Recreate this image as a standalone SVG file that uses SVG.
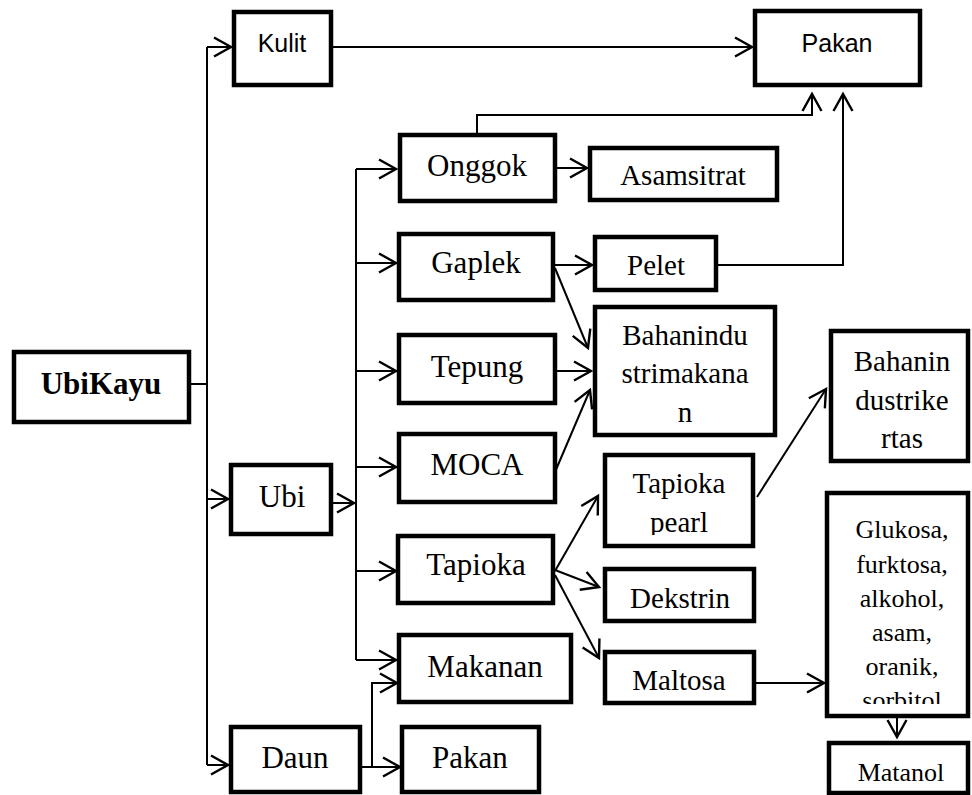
<svg xmlns="http://www.w3.org/2000/svg" width="972" height="795" viewBox="0 0 972 795">
<style>
.box{fill:#fff;stroke:#000;stroke-width:4.5}
.t{font-family:"Liberation Serif","Times New Roman",serif;font-size:31px;fill:#000;text-anchor:middle}
.s{font-family:"Liberation Sans",Arial,sans-serif;font-size:25px;fill:#000;text-anchor:middle}
.m{font-size:29px}
.sm{font-size:26px}
.c{fill:none;stroke:#000;stroke-width:2}
</style>
<defs>
<marker id="ah" viewBox="-20 -12 24 24" refX="0" refY="0" markerWidth="24" markerHeight="24" markerUnits="userSpaceOnUse" orient="auto" overflow="visible">
<path d="M-17,-9.5 L0,0 L-17,9.5" fill="none" stroke="#000" stroke-width="2.4"/>
</marker>
<clipPath id="cp1"><rect x="605" y="455" width="148" height="80"/></clipPath>
<clipPath id="cp2"><rect x="827" y="493" width="141" height="211"/></clipPath>
</defs>
<g id="connectors">
<path class="c" d="M191,384 H207"/>
<path class="c" d="M207,47 V765"/>
<path class="c" d="M207,47 H231" marker-end="url(#ah)"/>
<path class="c" d="M207,499 H228" marker-end="url(#ah)"/>
<path class="c" d="M207,765 H228" marker-end="url(#ah)"/>
<path class="c" d="M333,47 H752" marker-end="url(#ah)"/>
<path class="c" d="M333,503 H354" marker-end="url(#ah)"/>
<path class="c" d="M356,169 V660"/>
<path class="c" d="M356,169 H396" marker-end="url(#ah)"/>
<path class="c" d="M356,263 H396" marker-end="url(#ah)"/>
<path class="c" d="M356,371 H396" marker-end="url(#ah)"/>
<path class="c" d="M356,467 H396" marker-end="url(#ah)"/>
<path class="c" d="M356,571 H396" marker-end="url(#ah)"/>
<path class="c" d="M356,660 H396" marker-end="url(#ah)"/>
<path class="c" d="M477,133 V115 H812 V94" marker-end="url(#ah)"/>
<path class="c" d="M718,265 H843 V94" marker-end="url(#ah)"/>
<path class="c" d="M557,168 H587" marker-end="url(#ah)"/>
<path class="c" d="M555,265 H592" marker-end="url(#ah)"/>
<path class="c" d="M555,268 L588,348" marker-end="url(#ah)"/>
<path class="c" d="M557,371 H591" marker-end="url(#ah)"/>
<path class="c" d="M555,472 L590,390" marker-end="url(#ah)"/>
<path class="c" d="M555,571 L598,496" marker-end="url(#ah)"/>
<path class="c" d="M555,570 L599,587" marker-end="url(#ah)"/>
<path class="c" d="M555,575 L599,658" marker-end="url(#ah)"/>
<path class="c" d="M757,497 L826,389" marker-end="url(#ah)"/>
<path class="c" d="M756,683 H824" marker-end="url(#ah)"/>
<path class="c" d="M897,718 V737" marker-end="url(#ah)"/>
<path class="c" d="M362,767 H400" marker-end="url(#ah)"/>
<path class="c" d="M372,767 V683 H397" marker-end="url(#ah)"/>
</g>
<g id="ubikayu"><rect class="box" x="14" y="352" width="175" height="70"/><text class="t" x="101" y="394" font-weight="bold">UbiKayu</text></g>
<g id="kulit"><rect class="box" x="234" y="12" width="97" height="73"/><text class="s" x="282" y="52">Kulit</text></g>
<g id="pakan-top"><rect class="box" x="755" y="11" width="165" height="74"/><text class="s" x="837" y="52">Pakan</text></g>
<g id="ubi"><rect class="box" x="231" y="465" width="100" height="69"/><text class="t" x="282" y="507">Ubi</text></g>
<g id="daun"><rect class="box" x="231" y="727" width="129" height="65"/><text class="t" x="295" y="768">Daun</text></g>
<g id="onggok"><rect class="box" x="400" y="135" width="155" height="66"/><text class="t" x="477" y="176">Onggok</text></g>
<g id="gaplek"><rect class="box" x="399" y="234" width="154" height="66"/><text class="t" x="476" y="273">Gaplek</text></g>
<g id="tepung"><rect class="box" x="399" y="335" width="156" height="68"/><text class="t" x="477" y="377">Tepung</text></g>
<g id="moca"><rect class="box" x="399" y="434" width="156" height="68"/><text class="t" x="477" y="475">MOCA</text></g>
<g id="tapioka"><rect class="box" x="398" y="536" width="155" height="67"/><text class="t" x="476" y="575">Tapioka</text></g>
<g id="makanan"><rect class="box" x="399" y="635" width="172" height="67"/><text class="t" x="485" y="677">Makanan</text></g>
<g id="pakan-bottom"><rect class="box" x="402" y="727" width="137" height="65"/><text class="t" x="470" y="768">Pakan</text></g>
<g id="asamsitrat"><rect class="box" x="590" y="148" width="187" height="52"/><text class="t m" x="683" y="185">Asamsitrat</text></g>
<g id="pelet"><rect class="box" x="595" y="237" width="121" height="53"/><text class="t m" x="656" y="275">Pelet</text></g>
<g id="bahan-makanan"><rect class="box" x="595" y="307" width="180" height="128"/><text class="t m" x="685" y="345">Bahanindu</text><text class="t m" x="685" y="383">strimakana</text><text class="t m" x="685" y="422">n</text></g>
<g id="tapioka-pearl"><rect class="box" x="605" y="455" width="148" height="91"/><g clip-path="url(#cp1)"><text class="t m" x="679" y="493">Tapioka</text><text class="t m" x="679" y="532">pearl</text></g></g>
<g id="dekstrin"><rect class="box" x="605" y="569" width="149" height="52"/><text class="t m" x="680" y="608">Dekstrin</text></g>
<g id="maltosa"><rect class="box" x="605" y="652" width="149" height="51"/><text class="t m" x="679" y="690">Maltosa</text></g>
<g id="bahan-kertas"><rect class="box" x="831" y="331" width="137" height="130"/><text class="t m" x="902" y="371">Bahanin</text><text class="t m" x="902" y="410">dustrike</text><text class="t m" x="902" y="448">rtas</text></g>
<g id="glukosa"><rect class="box" x="827" y="493" width="141" height="223"/><g clip-path="url(#cp2)"><text class="t sm" x="902" y="538">Glukosa,</text><text class="t sm" x="902" y="573">furktosa,</text><text class="t sm" x="902" y="607">alkohol,</text><text class="t sm" x="902" y="641">asam,</text><text class="t sm" x="902" y="675">oranik,</text><text class="t sm" x="902" y="709">sorbitol</text></g></g>
<g id="matanol"><rect class="box" x="829" y="743" width="139" height="50"/><text class="t sm" x="901" y="781">Matanol</text></g>
</svg>
